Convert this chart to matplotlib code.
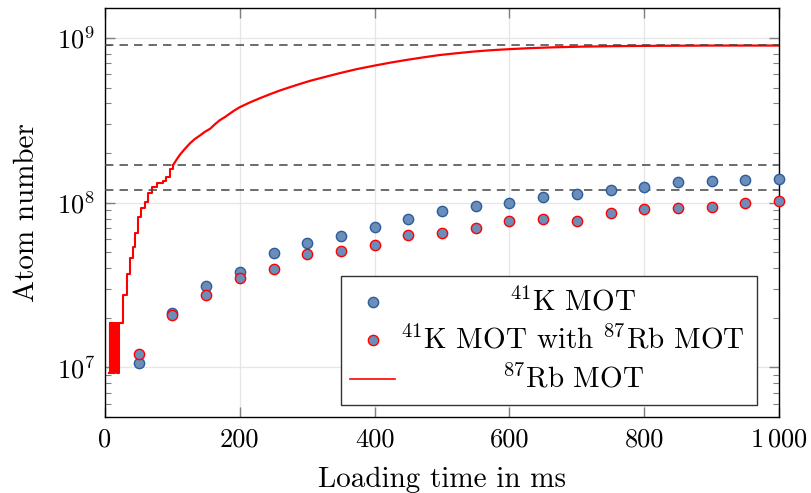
import numpy as np
import matplotlib
matplotlib.use("Agg")
import matplotlib.pyplot as plt
from matplotlib.patches import Rectangle
from matplotlib.lines import Line2D

plt.rcParams['font.family'] = 'cmr10'
plt.rcParams['mathtext.fontset'] = 'cm'
plt.rcParams['axes.formatter.use_mathtext'] = True

# loading time (ms) of the K measurements
k_time = [50, 100, 150, 200, 250, 300, 350, 400, 450, 500,
          550, 600, 650, 700, 750, 800, 850, 900, 950, 1000]
# 41K MOT alone
k_alone = [1.06e7, 2.15e7, 3.14e7, 3.82e7, 4.93e7, 5.70e7, 6.28e7, 7.16e7, 7.93e7, 8.85e7,
           9.5e7, 1.00e8, 1.08e8, 1.13e8, 1.19e8, 1.24e8, 1.33e8, 1.35e8, 1.38e8, 1.40e8]
# 41K MOT with 87Rb MOT
k_with_rb = [1.21e7, 2.08e7, 2.75e7, 3.48e7, 3.93e7, 4.91e7, 5.09e7, 5.55e7, 6.34e7, 6.52e7,
             6.98e7, 7.74e7, 8.0e7, 7.78e7, 8.65e7, 9.1e7, 9.27e7, 9.4e7, 9.9e7, 1.03e8]

# 87Rb MOT loading curve, early (step-like) part
rb_early_t = [6, 7, 8, 9, 10, 11, 12, 13, 14, 15, 18, 19, 20, 21, 22, 27, 32, 37, 42, 44,
              49, 54, 59, 64, 69, 77, 86, 91, 96, 101]
rb_early_n = [9.3e6, 1.86e7, 9.3e6, 1.86e7, 9.3e6, 1.86e7, 9.3e6, 1.86e7, 9.3e6, 1.86e7,
              9.3e6, 1.86e7, 9.3e6, 1.86e7, 1.86e7, 2.76e7, 3.7e7, 4.6e7, 5.4e7, 6.5e7,
              8.2e7, 9.25e7, 1.01e8, 1.14e8, 1.25e8, 1.32e8, 1.35e8, 1.44e8, 1.6e8, 1.69e8]
# 87Rb MOT loading curve, later part
rb_late_t = [101, 106, 111, 118, 126, 133, 141, 148, 156, 163, 170, 178, 185, 192, 200,
             215, 230, 244, 259, 274, 290, 305, 323, 348, 373, 402, 425, 447, 472, 496,
             521, 546, 570, 600, 630, 665, 704, 750, 802, 850, 901, 950, 1000]
rb_late_n = [1.69e8, 1.82e8, 1.95e8, 2.11e8, 2.29e8, 2.43e8, 2.56e8, 2.69e8, 2.81e8, 2.99e8,
             3.16e8, 3.31e8, 3.47e8, 3.63e8, 3.8e8, 4.06e8, 4.31e8, 4.54e8, 4.79e8, 5.02e8,
             5.27e8, 5.5e8, 5.75e8, 6.11e8, 6.46e8, 6.82e8, 7.1e8, 7.35e8, 7.62e8, 7.87e8,
             8.07e8, 8.26e8, 8.41e8, 8.55e8, 8.67e8, 8.77e8, 8.85e8, 8.91e8, 8.95e8, 8.97e8,
             8.99e8, 8.99e8, 8.99e8]

# saturation levels
levels = [9.0e8, 1.70e8, 1.20e8]

x_ticks = [0, 200, 400, 600, 800, 1000]
x_tick_labels = ['0', '200', '400', '600', '800', r'$1\,000$']

blue_face = '#6b8dba'
blue_edge = '#2c5d9b'

fig = plt.figure(figsize=(8.12, 4.93), dpi=100)
ax = fig.add_axes([0.1293, 0.1542, 0.8301, 0.8296])

ax.plot(rb_early_t, rb_early_n, color='red', lw=1.5, drawstyle='steps-post', zorder=2)
ax.plot(rb_late_t, rb_late_n, color='red', lw=1.6, zorder=2)

for lv in levels:
    ax.axhline(lv, color='#444444', lw=1.1, dashes=(5.5, 4), zorder=3)

ax.plot(k_time, k_alone, 'o', ms=7.4, mfc=blue_face, mec=blue_edge, mew=1.0,
        ls='none', zorder=4, clip_on=False)
ax.plot(k_time, k_with_rb, 'o', ms=7.4, mfc=blue_face, mec='red', mew=1.0,
        ls='none', zorder=4, clip_on=False)

ax.set_yscale('log')
ax.set_xlim(0, 1000)
ax.set_ylim(5.0e6, 1.52e9)
ax.set_xticks(x_ticks)
ax.set_xticklabels(x_tick_labels)

ax.grid(True, which='major', color='#e6e6e6', lw=0.9)
ax.set_axisbelow(True)
ax.tick_params(which='both', direction='in', top=True, right=True, colors='#808080',
               labelcolor='black', labelsize=19)
ax.tick_params(which='major', length=7, width=1.0)
ax.tick_params(which='minor', length=4.6, width=0.8)
ax.tick_params(axis='x', pad=8)
ax.tick_params(axis='y', pad=7)
for sp in ax.spines.values():
    sp.set_linewidth(1.0)
    sp.set_color('black')

ax.set_xlabel('Loading time in ms', fontsize=21, labelpad=11)
ax.set_ylabel('Atom number', fontsize=21, labelpad=12)

# legend drawn with centred labels
tr = ax.transAxes
ax.add_patch(Rectangle((0.350, 0.029), 0.617, 0.316, transform=tr, fill=True,
                       facecolor='white', edgecolor='#333333', lw=1.0, zorder=5))
rows = [0.282, 0.188, 0.092]
ax.add_line(Line2D([0.397], [rows[0]], transform=tr, marker='o', ms=7.4, mfc=blue_face,
                   mec=blue_edge, mew=1.0, ls='none', zorder=6))
ax.add_line(Line2D([0.397], [rows[1]], transform=tr, marker='o', ms=7.4, mfc=blue_face,
                   mec='red', mew=1.0, ls='none', zorder=6))
ax.add_line(Line2D([0.364, 0.430], [rows[2], rows[2]], transform=tr, color='red', lw=1.2,
                   zorder=6))
labels = [r'$^{41}$K MOT', r'$^{41}$K MOT with $^{87}$Rb MOT', r'$^{87}$Rb MOT']
for y, lab in zip(rows, labels):
    ax.text(0.694, y, lab, transform=tr, ha='center', va='center', fontsize=21, zorder=6)

fig.savefig('out.png', dpi=100)
